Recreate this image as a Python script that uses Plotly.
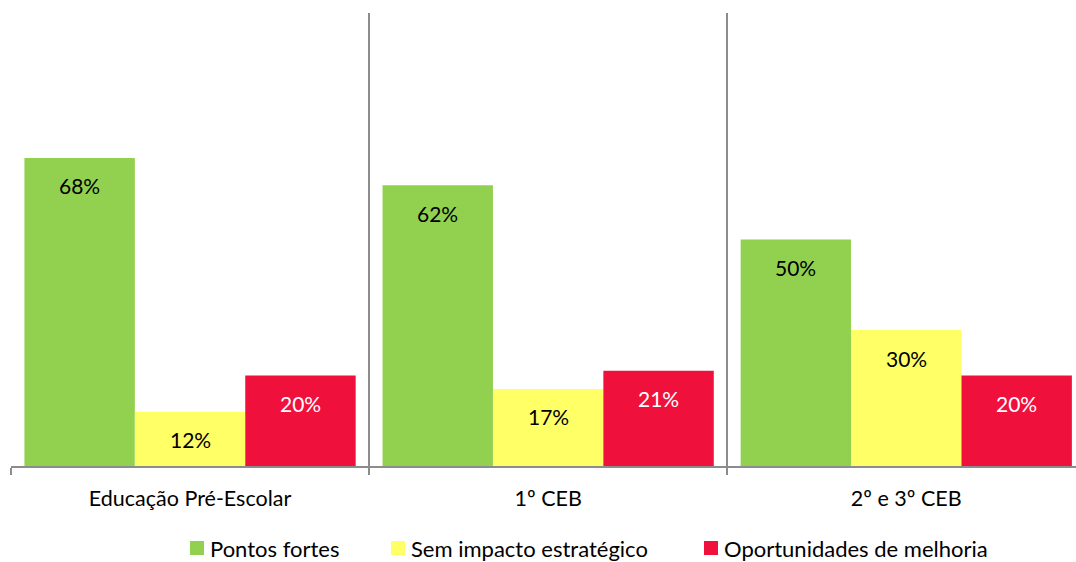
import plotly.graph_objects as go

categories = ["Educação Pré-Escolar", "1º CEB", "2º e 3º CEB"]
series_names = ["Pontos fortes", "Sem impacto estratégico", "Oportunidades de melhoria"]
pontos_fortes = [0.68, 0.62, 0.50]
sem_impacto = [0.12, 0.17, 0.30]
oportunidades = [0.20, 0.21, 0.20]

colors = ["#92D050", "#FFFF66", "#F0103C"]
label_colors = ["black", "black", "white"]
FONT = "Lato, Carlito, Calibri, sans-serif"
W, H = 1076, 562

fig = go.Figure()
all_values = [pontos_fortes, sem_impacto, oportunidades]
for name, vals, col in zip(series_names, all_values, colors):
    fig.add_trace(go.Bar(x=categories, y=vals, name=name, marker_color=col,
                         marker_line_width=0, showlegend=False))

# value labels just inside the top of each bar
bar_px = 110.5
for i, (vals, tc) in enumerate(zip(all_values, label_colors)):
    for cat, v in zip(categories, vals):
        fig.add_annotation(x=cat, y=v, text=f"{round(v*100)}%", showarrow=False,
                           xshift=(i - 1) * bar_px, yshift=-28,
                           font=dict(family=FONT, size=21, color=tc),
                           xanchor="center", yanchor="middle")

# legend row along the bottom edge (square swatch + label)
legend_x = [190, 391, 704]
sq = 14
y_mid = 548
for x0, name, col in zip(legend_x, series_names, colors):
    fig.add_shape(type="rect", xref="paper", yref="paper", layer="above",
                  x0=(x0 - 11) / (W - 11), x1=(x0 + sq - 11) / (W - 11),
                  y0=(466 - (y_mid + sq / 2)) / 453, y1=(466 - (y_mid - sq / 2)) / 453,
                  fillcolor=col, line_width=0)
    fig.add_annotation(xref="paper", yref="paper", x=(x0 + sq + 4 - 11) / (W - 11),
                       y=(466 - y_mid) / 453, text=name, showarrow=False,
                       xanchor="left", yanchor="middle",
                       font=dict(family=FONT, size=22, color="black"))

fig.update_layout(
    width=W, height=H,
    margin=dict(l=11, r=0, t=13, b=96),
    plot_bgcolor="white", paper_bgcolor="white",
    barmode="group", bargap=0.075, bargroupgap=0,
    font=dict(family=FONT, size=21, color="black"),
    showlegend=False,
    xaxis=dict(range=[-0.5, 2.474], showline=True, linecolor="#8C8C8C", linewidth=2,
               tickson="boundaries", ticks="outside", ticklen=7, tickcolor="#8C8C8C",
               tickwidth=2, showgrid=True, gridcolor="#8C8C8C", gridwidth=2,
               ticklabelstandoff=12, tickfont=dict(family=FONT, size=21.5)),
    yaxis=dict(range=[0, 1], showgrid=False, showticklabels=False, zeroline=False,
               showline=False, ticks=""),
)

fig.write_html("out.html")
